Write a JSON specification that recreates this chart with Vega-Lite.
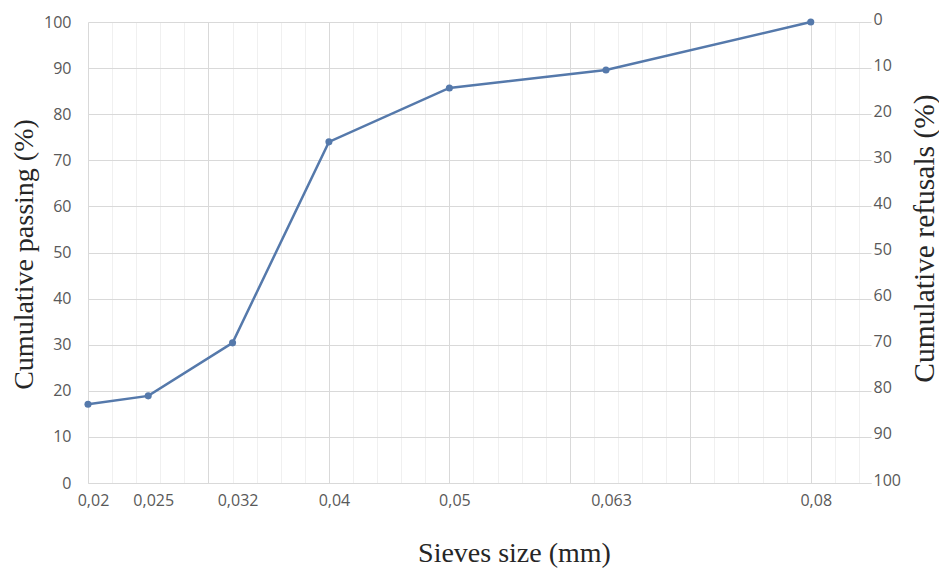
{
  "$schema": "https://vega.github.io/schema/vega-lite/v6.json",
  "width": 783,
  "height": 461,
  "autosize": {"type": "none"},
  "padding": {"left": 88, "top": 22, "right": 68, "bottom": 86},
  "background": "white",
  "config": {
    "view": {"stroke": null},
    "axis": {"labelFont": "Open Sans", "labelFontSize": 16, "labelColor": "#595959", "titleFont": "Liberation Serif", "titleFontWeight": "normal", "titleFontSize": 28, "titleColor": "#262626"}
  },
  "data": {
    "values": [
      {"size": 0.02, "passing": 17.1, "refusal": 82.9},
      {"size": 0.025, "passing": 18.9, "refusal": 81.1},
      {"size": 0.032, "passing": 30.4, "refusal": 69.6},
      {"size": 0.04, "passing": 74.0, "refusal": 26.0},
      {"size": 0.05, "passing": 85.7, "refusal": 14.3},
      {"size": 0.063, "passing": 89.6, "refusal": 10.4},
      {"size": 0.08, "passing": 100, "refusal": 0}
    ]
  },
  "layer": [
    {
      "mark": {"type": "point", "opacity": 0},
      "encoding": {
        "x": {"field": "size", "type": "quantitative", "scale": {"domain": [0.02, 0.085], "zero": false, "nice": false},
          "axis": {"orient": "bottom", "values": [0.022,0.024,0.026,0.028,0.032,0.034,0.036,0.038,0.042,0.044,0.046,0.048,0.052,0.054,0.056,0.058,0.062,0.064,0.066,0.068,0.072,0.074,0.076,0.078,0.082,0.084], "grid": true, "gridColor": "#f0f0f0", "gridWidth": 1, "labels": false, "ticks": false, "domain": false, "title": null}},
        "y": {"field": "passing", "type": "quantitative", "scale": {"domain": [0, 100], "nice": false}, "axis": null}
      }
    },
    {
      "mark": {"type": "point", "opacity": 0},
      "encoding": {
        "x": {"field": "size", "type": "quantitative", "scale": {"domain": [0.02, 0.085], "zero": false, "nice": false},
          "axis": {"orient": "bottom", "values": [0.02, 0.03, 0.04, 0.05, 0.06, 0.07, 0.08], "grid": true, "gridColor": "#d9d9d9", "gridWidth": 1, "labels": false, "ticks": false, "domain": false, "title": null}},
        "y": {"field": "passing", "type": "quantitative", "scale": {"domain": [0, 100], "nice": false},
          "axis": {"orient": "left", "values": [0,10,20,30,40,50,60,70,80,90,100], "grid": true, "gridColor": "#d9d9d9", "ticks": false, "domain": false, "labelPadding": 17, "title": "Cumulative passing (%)", "titleX": -64, "titleY": 232, "titleAngle": -90, "titleBaseline": "middle", "titleAnchor": "middle"}}
      }
    },
    {
      "mark": {"type": "point", "opacity": 0},
      "encoding": {
        "x": {"field": "size", "type": "quantitative", "scale": {"domain": [0.02, 0.085], "zero": false, "nice": false}, "axis": null},
        "y": {"field": "refusal", "type": "quantitative", "scale": {"domain": [0, 100], "nice": false, "reverse": true},
          "axis": {"orient": "right", "values": [0,10,20,30,40,50,60,70,80,90,100], "grid": false, "ticks": false, "domain": false, "labelPadding": 2, "labelOffset": -3, "title": "Cumulative refusals (%)", "titleFontSize": 29.5, "titleX": 53, "titleY": 216, "titleAngle": -90, "titleBaseline": "middle", "titleAnchor": "middle"}}
      }
    },
    {
      "mark": {"type": "line", "color": "#5579ab", "strokeWidth": 2.5, "point": {"filled": true, "size": 50, "color": "#5579ab"}},
      "encoding": {
        "x": {"field": "size", "type": "quantitative", "scale": {"domain": [0.02, 0.085], "zero": false, "nice": false},
          "axis": {"orient": "bottom", "values": [0.02, 0.025, 0.032, 0.04, 0.05, 0.063, 0.08], "labelExpr": "replace(format(datum.value, '~g'), '.', ',')", "labelFlush": false, "labelOverlap": false, "grid": false, "ticks": false, "domain": true, "domainColor": "#d9d9d9", "labelBaseline": "middle", "labelPadding": 17, "labelOffset": 5, "title": "Sieves size (mm)", "titleX": 426, "titleY": 70, "titleBaseline": "middle", "titleAnchor": "middle"}},
        "y": {"field": "passing", "type": "quantitative", "scale": {"domain": [0, 100], "nice": false}, "axis": null}
      }
    }
  ],
  "resolve": {"scale": {"y": "independent"}, "axis": {"x": "independent", "y": "independent"}}
}
